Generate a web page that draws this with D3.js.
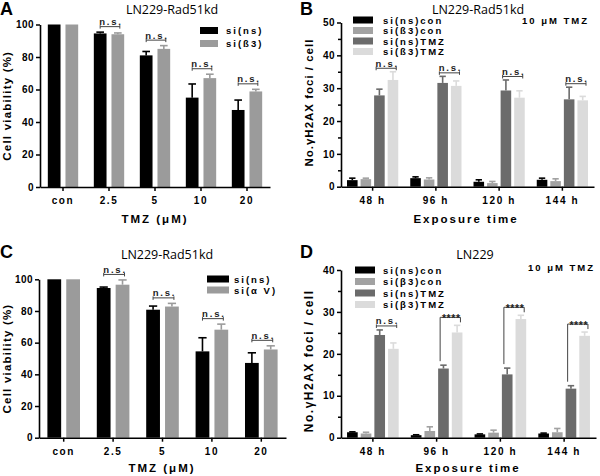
<!DOCTYPE html>
<html><head><meta charset="utf-8">
<script src="https://cdn.jsdelivr.net/npm/d3@7"></script>
<style>
body{margin:0;background:#fff}
</style>
</head><body>
<svg id="c" width="600" height="476"></svg>
<script>
// ---------- data ----------
const doseCats = ["con", "2.5", "5", "10", "20"];
const timeCats = ["48 h", "96 h", "120 h", "144 h"];

// Panel A
const aNs = [100, 94.5, 81, 55, 47.4];
const aNsErr = [0, 0.8, 2.4, 8.4, 6.1];
const aB3 = [100, 94, 85, 67, 58.8];
const aB3Err = [0, 0.8, 2, 2.4, 1.3];
const aSig = ["", "n.s.", "n.s.", "n.s.", "n.s."];

// Panel B
const bNsCon = [2.0, 2.6, 1.5, 2.1];
const bNsConErr = [0.6, 0.4, 0.6, 0.5];
const bB3Con = [2.3, 2.2, 1.1, 1.7];
const bB3ConErr = [0.3, 0.5, 0.5, 0.7];
const bNsTmz = [27.8, 31.6, 29.3, 26.6];
const bNsTmzErr = [1.9, 2.0, 3.2, 3.7];
const bB3Tmz = [32.5, 30.7, 27.1, 26.3];
const bB3TmzErr = [2.5, 1.5, 2.1, 1.2];
const bSig = ["n.s.", "n.s.", "n.s.", "n.s."];

// Panel C
const cNs = [100, 94.5, 80.8, 54.5, 47.2];
const cNsErr = [0, 0.6, 2.3, 8.6, 6.4];
const cAv = [100, 96.6, 82.8, 68.2, 55.7];
const cAvErr = [0, 3.0, 2.0, 3.5, 2.3];
const cSig = ["", "n.s.", "n.s.", "n.s.", "n.s."];

// Panel D
const dNsCon = [1.3, 0.6, 0.8, 1.0];
const dNsConErr = [0.1, 0.1, 0.1, 0.1];
const dB3Con = [1.0, 1.6, 1.2, 1.3];
const dB3ConErr = [0.3, 1.0, 0.6, 0.9];
const dNsTmz = [24.5, 16.5, 15.1, 11.7];
const dNsTmzErr = [1.2, 0.8, 1.5, 0.7];
const dB3Tmz = [21.2, 25.1, 28.3, 24.3];
const dB3TmzErr = [1.4, 1.7, 0.9, 0.9];
const dSig = ["n.s.", "****", "****", "****"];

const yTicksViab = [0, 20, 40, 60, 80, 100];
const yTicksB = [0, 10, 20, 30, 40, 50];
const yMinorB = [5, 15, 25, 35, 45];
const yTicksD = [0, 10, 20, 30, 40];
const yMinorD = [5, 15, 25, 35];

// ---------- drawing ----------
const svg = d3.select("#c");
const SANS = "'Liberation Sans', Arial, sans-serif";

function txt(sel, size, spacing, weight) {
  return sel.style("font-family", SANS).style("font-size", size + "px")
    .style("font-weight", weight || "bold").style("letter-spacing", spacing + "px");
}

function panel(o) {
  const g = svg.append("g");
  const x = d3.scaleBand().domain(o.cats).range([o.x0, o.x1])
    .paddingInner(o.pad).paddingOuter(o.pad / 2);
  const xs = d3.scaleBand().domain(d3.range(o.series.length))
    .range([0, x.bandwidth()]).paddingInner(o.subPad);
  const y = d3.scaleLinear().domain([0, o.ymax]).range([o.y0, o.y1]);
  const bw = xs.bandwidth();

  o.series.forEach((s, si) => {
    const data = s.values.map((v, i) => ({v, e: s.err[i], c: o.cats[i]}));
    g.selectAll(null).data(data).join("rect")
      .attr("x", d => x(d.c) + xs(si)).attr("width", bw)
      .attr("y", d => y(d.v)).attr("height", d => y(0) - y(d.v))
      .attr("fill", s.color);
    const eb = data.filter(d => d.e > 0);
    g.selectAll(null).data(eb).join("line")
      .attr("x1", d => x(d.c) + xs(si) + bw / 2).attr("x2", d => x(d.c) + xs(si) + bw / 2)
      .attr("y1", d => y(d.v)).attr("y2", d => y(d.v + d.e))
      .attr("stroke", s.color).attr("stroke-width", 1.6);
    g.selectAll(null).data(eb).join("line")
      .attr("x1", d => x(d.c) + xs(si) + bw * 0.2).attr("x2", d => x(d.c) + xs(si) + bw * 0.8)
      .attr("y1", d => y(d.v + d.e)).attr("y2", d => y(d.v + d.e))
      .attr("stroke", s.color).attr("stroke-width", 1.6);
  });

  // significance brackets
  const [ia, ib] = o.cmp;
  const sa = o.series[ia], sb = o.series[ib];
  o.sig.forEach((lab, i) => {
    if (!lab) return;
    const c = o.cats[i];
    const ta = y(sa.values[i] + sa.err[i]), tb = y(sb.values[i] + sb.err[i]);
    const top = Math.min(ta, tb);
    let xa, xb;
    if (o.wideBracket) { xa = x(c) + xs(ia) + 2; xb = x(c) + xs(ib) + bw - 2; }
    else { xa = x(c) + xs(ia) + bw / 2; xb = x(c) + xs(ib) + bw / 2 + 2; }
    const col = "#444";
    if (lab === "n.s.") {
      const by = top - o.gap;
      g.append("line").attr("x1", xa).attr("x2", xb).attr("y1", by).attr("y2", by)
        .attr("stroke", col).attr("stroke-width", 1);
      [xa, xb].forEach(xx => g.append("line").attr("x1", xx).attr("x2", xx)
        .attr("y1", by - 1.5).attr("y2", by + 2).attr("stroke", col).attr("stroke-width", 1));
      txt(g.append("text").attr("x", (xa + xb) / 2 + 1).attr("y", by - 1.5)
        .attr("text-anchor", "middle").attr("fill", "#222"), 9.5, 1.8).text(lab);
    } else {
      const by = top - 8;
      g.append("path").attr("d", `M${xa},${ta - 4}V${by}H${xb}V${tb - 3}`)
        .attr("fill", "none").attr("stroke", col).attr("stroke-width", 1);
      txt(g.append("text").attr("x", (xa + xb) / 2 + 1).attr("y", by + 4.5)
        .attr("text-anchor", "middle").attr("fill", "#222"), 10.5, 0.6).text(lab);
    }
  });

  // axes
  const yAxis = g.append("g").attr("transform", `translate(${o.x0},0)`)
    .call(d3.axisLeft(y).tickValues(o.yTicks).tickSize(4).tickSizeOuter(0).tickPadding(2));
  if (o.yMinor) {
    g.append("g").attr("transform", `translate(${o.x0},0)`)
      .call(d3.axisLeft(y).tickValues(o.yMinor).tickSize(3).tickFormat(""))
      .call(a => a.select(".domain").remove())
      .selectAll("line").attr("stroke", "#000").attr("stroke-width", 1.5);
  }
  const xAxis = g.append("g").attr("transform", `translate(0,${o.y0})`)
    .call(d3.axisBottom(x).tickSize(4).tickSizeOuter(0).tickPadding(6));
  [yAxis, xAxis].forEach(a => {
    a.selectAll("path,line").attr("stroke", "#000").attr("stroke-width", 1.5);
    a.selectAll("text").attr("fill", "#000");
  });
  txt(yAxis.selectAll("text"), 10, 0.4);
  txt(xAxis.selectAll("text"), 10, 1.6);
  g.selectAll(".domain").attr("stroke-width", 1.6);

  // axis titles
  txt(g.append("text").attr("transform", `translate(${o.ylabX},${(o.y0 + o.y1) / 2 + o.ylabDy}) rotate(-90)`)
    .attr("text-anchor", "middle"), o.ylabSize, o.ylabSp).text(o.ylab);
  txt(g.append("text").attr("x", o.xlabX).attr("y", o.xlabY)
    .attr("text-anchor", "middle"), 11.5, 2).text(o.xlab);

  // title and panel letter
  g.append("text").attr("x", o.titleX).attr("y", o.titleY).attr("text-anchor", "middle")
    .style("font-family", "'Open Sans', sans-serif").style("font-size", "12.5px").text(o.title);
  txt(g.append("text").attr("x", o.letterX).attr("y", o.letterY), 18, 0).text(o.letter);

  // legend
  o.series.forEach((s, si) => {
    const ly = o.legY + si * o.legStep;
    g.append("rect").attr("x", o.legX).attr("y", ly).attr("width", o.legW).attr("height", 7)
      .attr("fill", s.color);
    txt(g.append("text").attr("x", o.legX + o.legW + o.legGap).attr("y", ly + 7), 9.5, 2)
      .text(s.name);
  });
  if (o.note) {
    txt(g.append("text").attr("x", o.noteX).attr("y", o.noteY), 9.5, 2).text(o.note);
  }
}

const black = "#000", gray = "#9b9b9b", conGray = "#a2a2a2", dark = "#6b6b6b", light = "#dbdbdb";

panel({
  cats: doseCats, x0: 40, x1: 270, pad: 0.34, subPad: 0.28,
  y0: 187, y1: 24.5, ymax: 100, yTicks: yTicksViab,
  series: [
    {name: "si(ns)", values: aNs, err: aNsErr, color: black},
    {name: "si(ß3)", values: aB3, err: aB3Err, color: gray}],
  cmp: [0, 1], sig: aSig, gap: 5.5, wideBracket: false,
  ylab: "Cell viability (%)", ylabX: 11, ylabDy: 0, ylabSize: 11.5, ylabSp: 1.2,
  xlab: "TMZ (μM)", xlabX: 155, xlabY: 223,
  title: "LN229-Rad51kd", titleX: 172, titleY: 13.5, letter: "A", letterX: 0, letterY: 15,
  legX: 200, legY: 27, legStep: 13, legW: 18, legGap: 8
});

panel({
  cats: timeCats, x0: 341, x1: 594, pad: 0.19, subPad: 0.22,
  y0: 186.7, y1: 22.5, ymax: 50, yTicks: yTicksB, yMinor: yMinorB,
  series: [
    {name: "si(ns)con", values: bNsCon, err: bNsConErr, color: black},
    {name: "si(ß3)con", values: bB3Con, err: bB3ConErr, color: conGray},
    {name: "si(ns)TMZ", values: bNsTmz, err: bNsTmzErr, color: dark},
    {name: "si(ß3)TMZ", values: bB3Tmz, err: bB3TmzErr, color: light}],
  cmp: [2, 3], sig: bSig, gap: 3.5, wideBracket: true,
  ylab: "No.γH2AX foci / cell", ylabX: 313, ylabDy: -2, ylabSize: 11.5, ylabSp: 1,
  xlab: "Exposure time", xlabX: 466, xlabY: 223,
  title: "LN229-Rad51kd", titleX: 478, titleY: 13.5, letter: "B", letterX: 300, letterY: 15,
  legX: 353, legY: 16.5, legStep: 10.5, legW: 20, legGap: 10,
  note: "10 μM TMZ", noteX: 522, noteY: 24
});

panel({
  cats: doseCats, x0: 39, x1: 286, pad: 0.34, subPad: 0.27,
  y0: 437.7, y1: 279.3, ymax: 100, yTicks: yTicksViab,
  series: [
    {name: "si(ns)", values: cNs, err: cNsErr, color: black},
    {name: "si(α V)", values: cAv, err: cAvErr, color: gray}],
  cmp: [0, 1], sig: cSig, gap: 5.5, wideBracket: false,
  ylab: "Cell viability (%)", ylabX: 11, ylabDy: 0, ylabSize: 11.5, ylabSp: 1.2,
  xlab: "TMZ (μM)", xlabX: 162, xlabY: 472,
  title: "LN229-Rad51kd", titleX: 167, titleY: 259, letter: "C", letterX: 0, letterY: 258,
  legX: 207, legY: 275.5, legStep: 11, legW: 22, legGap: 5
});

panel({
  cats: timeCats, x0: 341, x1: 596, pad: 0.19, subPad: 0.22,
  y0: 437.7, y1: 270, ymax: 40, yTicks: yTicksD, yMinor: yMinorD,
  series: [
    {name: "si(ns)con", values: dNsCon, err: dNsConErr, color: black},
    {name: "si(β3)con", values: dB3Con, err: dB3ConErr, color: conGray},
    {name: "si(ns)TMZ", values: dNsTmz, err: dNsTmzErr, color: dark},
    {name: "si(β3)TMZ", values: dB3Tmz, err: dB3TmzErr, color: light}],
  cmp: [2, 3], sig: dSig, gap: 4, wideBracket: true,
  ylab: "No.γH2AX foci / cell", ylabX: 313, ylabDy: 7, ylabSize: 12, ylabSp: 1.5,
  xlab: "Exposure time", xlabX: 468, xlabY: 472,
  title: "LN229", titleX: 475, titleY: 259, letter: "D", letterX: 300, letterY: 258,
  legX: 355, legY: 266.5, legStep: 11.5, legW: 20, legGap: 8,
  note: "10 μM TMZ", noteX: 528, noteY: 271
});
</script>
</body></html>
